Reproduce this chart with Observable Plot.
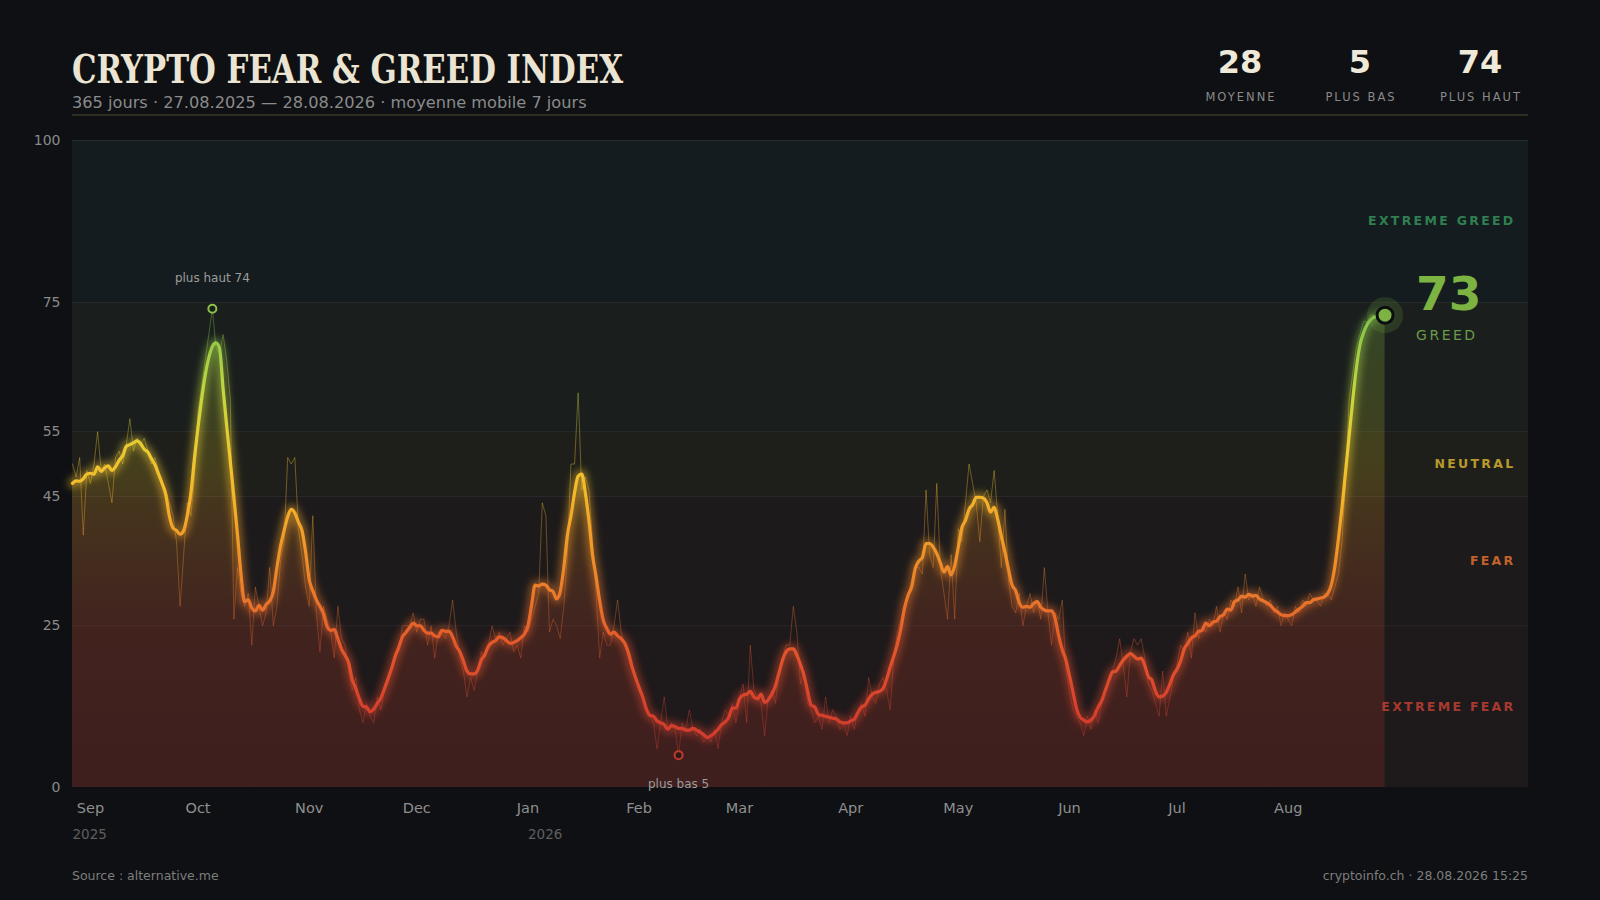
<!DOCTYPE html>
<html>
<head>
<meta charset="utf-8">
<script src="https://cdn.jsdelivr.net/npm/d3@7"></script>
<script src="https://cdn.jsdelivr.net/npm/@observablehq/plot@0.6"></script>
<style>
  html, body { margin: 0; padding: 0; background: #0e1013; }
  body { width: 1600px; height: 900px; position: relative; overflow: hidden; font-family: "DejaVu Sans", sans-serif; }
  #header { position: absolute; left: 0; top: 0; }
  #chart { position: absolute; left: 0; top: 120px; }
  #footer { position: absolute; left: 0; top: 850px; }
</style>
</head>
<body>
<div id="header"></div>
<div id="chart"></div>
<div id="footer"></div>
<script>
// ---------- DATA ----------
// Crypto Fear & Greed Index, daily values from 27.08.2025
const fng = [
  50,48,51,39,49,47,50,
  55,49,50,47,44,51,52,
  50,53,57,52,54,53,54,
  52,50,51,49,47,46,44,
  42,38,28,36,44,42,48,
  58,62,66,70,74,68,67,
  70,66,60,26,34,30,28,
  30,22,31,28,25,27,34,
  25,28,35,38,51,50,51,
  40,36,31,28,42,27,21,
  28,26,24,20,28,23,22,
  18,15,17,12,10,13,11,
  10,14,12,15,16,19,21,
  21,25,25,25,27,24,26,
  26,22,25,20,24,24,23,
  25,29,24,20,18,14,17,
  15,18,21,20,22,25,23,
  24,22,23,24,21,22,20,
  25,24,26,28,30,44,42,
  24,26,25,23,28,36,50,
  50,61,46,48,46,38,30,
  20,24,22,22,25,29,24,
  22,20,19,17,15,14,12,
  11,10,6,10,14,9,10,
  9,5,10,9,12,9,8,
  9,7,8,7,9,6,10,
  12,11,13,10,14,16,10,
  22,15,14,13,8,14,15,
  13,18,20,22,22,28,24,
  16,18,13,12,10,11,9,
  14,10,12,11,9,10,8,
  11,9,12,13,11,17,14,
  13,16,17,15,12,20,24,
  26,28,30,32,34,34,33,
  46,36,34,47,34,30,26,
  36,26,40,38,44,50,47,
  44,38,45,46,44,49,42,
  34,43,32,28,27,30,25,
  28,30,27,29,26,34,27,
  22,27,26,29,18,15,12,
  11,10,8,11,9,12,10,
  13,15,17,18,20,23,19,
  14,21,23,22,23,20,16,
  15,13,11,18,11,14,17,
  19,22,21,24,20,27,23,
  25,24,26,25,28,24,27,
  26,29,28,31,27,33,29,
  30,28,31,29,28,29,27,
  28,25,27,26,25,28,27,
  29,28,30,29,29,28,30,
  30,29,31,33,38,48,60,
  64,68,70,72,72,73,73,
  73,73,73
];
const startDate = "2025-08-27";
const domainEnd = "2026-10-07";
const zoneNames = ["EXTREME FEAR", "FEAR", "NEUTRAL", "GREED", "EXTREME GREED"];
const zoneLow  = [0, 25, 45, 55, 75];
const zoneHigh = [25, 45, 55, 75, 100];
const yTicks = [0, 25, 45, 55, 75, 100];
const yearLabels = ["2025", "2026"];
const titleText = "CRYPTO FEAR & GREED INDEX";
const subtitleText = "365 jours · 27.08.2025 — 28.08.2026 · moyenne mobile 7 jours";
const statLabels = ["MOYENNE", "PLUS BAS", "PLUS HAUT"];
const sourceText = "Source : alternative.me";
const stampText = "cryptoinfo.ch · 28.08.2026 15:25";
const maxLabelPrefix = "plus haut";
const minLabelPrefix = "plus bas";

// ---------- STYLES ----------
const zoneFill  = ["#1e191b", "#1d1a1c", "#1e1f1b", "#1a1f1e", "#141c1f"];
const zoneLabelColor = ["#a8392f", "#c2622b", "#b89a2c", "#6f9a45", "#2f7f51"];
const lineStops = [
  [0, "#c8372d"], [12, "#d6402c"], [22, "#e4572b"], [30, "#ea7a2a"], [38, "#f09a28"],
  [46, "#f5b92a"], [52, "#ebc932"], [60, "#cad63b"], [66, "#a8d044"], [72, "#86c54a"], [100, "#7cb342"]
];
const areaStops = [
  [0, "#b3302a", 0.22], [25, "#c0482a", 0.22], [40, "#c47a22", 0.24], [50, "#b39a20", 0.26],
  [62, "#8fa830", 0.26], [75, "#6fa33e", 0.30], [100, "#6fa33e", 0.30]
];

// ---------- TABLE ----------
const t0 = new Date(startDate + "T00:00:00Z").getTime();
const data = fng.map((v, i) => ({date: new Date(t0 + i * 864e5), value: v}));
const xDomain = [new Date(startDate + "T00:00:00Z"), new Date(domainEnd + "T00:00:00Z")];
const monthTicks = d3.utcMonth.range(d3.utcMonth.ceil(data[0].date), d3.utcMonth.ceil(data[data.length - 1].date));
const yearStarts = yearLabels.map(y => ({label: y, date: data.find(d => d.date.getUTCFullYear() === +y).date}));
const last = data[data.length - 1];
const maxPt = d3.greatest(data, d => d.value);
const minPt = d3.least(data, d => d.value);
const meanVal = Math.round(d3.mean(data, d => d.value));
const curZone = zoneLow.findIndex((lo, i) => last.value >= lo && last.value < zoneHigh[i]);
const zoneRows = zoneNames.map((n, i) => ({name: n, mid: (zoneLow[i] + zoneHigh[i]) / 2, i}));

const ma = (opts) => Plot.windowY({k: 7, anchor: "middle"}, {x: "date", y: "value", curve: "monotone-x", ...opts});

const chart = Plot.plot({
  width: 1600,
  height: 730,
  marginLeft: 72,
  marginRight: 72,
  marginTop: 20,
  marginBottom: 63,
  x: {type: "utc", domain: xDomain},
  y: {domain: [0, 100]},
  style: {background: "transparent", color: "#8d8d8d", fontFamily: "'DejaVu Sans', sans-serif", fontSize: "14px"},
  marks: [
    ...zoneRows.map(z => Plot.rect([z], {x1: xDomain[0], x2: xDomain[1], y1: zoneLow[z.i], y2: zoneHigh[z.i], fill: zoneFill[z.i]})),
    Plot.ruleY(zoneLow.slice(1).concat([100]), {stroke: "#ffffff", strokeOpacity: 0.07}),
    Plot.areaY(data, ma({fill: "url(#fgArea)"})),
    Plot.lineY(data, {x: "date", y: "value", stroke: "url(#fgLine)", strokeWidth: 1, strokeOpacity: 0.38}),
    Plot.lineY(data, ma({stroke: "url(#fgLine)", strokeWidth: 10, strokeOpacity: 0.45})),
    Plot.lineY(data, ma({stroke: "url(#fgLine)", strokeWidth: 3.2})),
    // zone labels
    ...zoneRows.filter(z => z.i !== curZone).map(z =>
      Plot.text([z], {x: xDomain[1], y: "mid", text: "name", textAnchor: "end", dx: -13,
        fill: zoneLabelColor[z.i], fontSize: 12.5, fontWeight: "bold"})),
    // max marker
    Plot.dot([maxPt], {x: "date", y: "value", r: 4, stroke: "#8bc34a", strokeWidth: 2, fill: "#1a2018"}),
    Plot.text([maxPt], {x: "date", y: "value", text: d => `${maxLabelPrefix} ${d.value}`, dy: -31, fill: "#9c9c9c", fontSize: 12}),
    // min marker
    Plot.dot([minPt], {x: "date", y: "value", r: 4, stroke: "#c0392b", strokeWidth: 2, fill: "#2a1a1a"}),
    Plot.text([minPt], {x: "date", y: "value", text: d => `${minLabelPrefix} ${d.value}`, dy: 29, fill: "#9c9c9c", fontSize: 12}),
    // current value
    Plot.dot([last], {x: "date", y: "value", r: 18, fill: "#7cb342", fillOpacity: 0.18}),
    Plot.dot([last], {x: "date", y: "value", r: 8, fill: "#7cb342", stroke: "#0b0d0f", strokeWidth: 3}),
    Plot.text([last], {x: "date", y: "value", text: d => String(d.value), dx: 31, dy: -20, textAnchor: "start",
      fill: "#7cb342", fontSize: 47, fontWeight: "bold"}),
    Plot.text([last], {x: "date", y: "value", text: () => zoneNames[curZone], dx: 31, dy: 20, textAnchor: "start",
      fill: "#6b9a48", fontSize: 14}),
    // axes
    Plot.axisY({ticks: yTicks, tickSize: 0, tickPadding: 12, fontSize: 14, fill: "#8a8a8a"}),
    Plot.axisX({ticks: monthTicks, tickFormat: d3.utcFormat("%b"), tickSize: 0, tickPadding: 15, fontSize: 14.5, fill: "#8f8f8f"}),
    Plot.text(yearStarts, {x: "date", y: 0, text: "label", textAnchor: "start", lineAnchor: "top", dy: 42, fontSize: 13.5, fill: "#5f5f5f"})
  ]
});

// gradients tied to the y scale
const ys = chart.scale("y");
const y0 = ys.apply(0), y100 = ys.apply(100);
const svgSel = d3.select(chart);
const defs = svgSel.insert("defs", ":first-child");
const lg = defs.append("linearGradient").attr("id", "fgLine").attr("gradientUnits", "userSpaceOnUse")
  .attr("x1", 0).attr("x2", 0).attr("y1", y0).attr("y2", y100);
lineStops.forEach(([v, c]) => lg.append("stop").attr("offset", v / 100).attr("stop-color", c));
const ag = defs.append("linearGradient").attr("id", "fgArea").attr("gradientUnits", "userSpaceOnUse")
  .attr("x1", 0).attr("x2", 0).attr("y1", y0).attr("y2", y100);
areaStops.forEach(([v, c, o]) => ag.append("stop").attr("offset", v / 100).attr("stop-color", c).attr("stop-opacity", o));
const glow = defs.append("filter").attr("id", "glow").attr("x", "-5%").attr("y", "-20%").attr("width", "110%").attr("height", "140%");
glow.append("feGaussianBlur").attr("stdDeviation", 3.5);
const lineGroups = svgSel.selectAll('g[aria-label="line"]').nodes();
if (lineGroups[1]) d3.select(lineGroups[1]).attr("filter", "url(#glow)");
svgSel.selectAll("text").filter(function () { return zoneNames.includes(this.textContent) && this.getAttribute("font-size") !== "14"; })
  .attr("letter-spacing", "2.3px");
svgSel.selectAll("text").filter(function () { return this.textContent === zoneNames[curZone]; })
  .attr("letter-spacing", "2.5px");
document.getElementById("chart").appendChild(chart);

// ---------- HEADER ----------
const hdr = d3.select("#header").append("svg").attr("width", 1600).attr("height", 120);
hdr.append("text").attr("x", 72).attr("y", 83).text(titleText)
  .attr("font-family", "'DejaVu Serif', serif").attr("font-weight", "bold").attr("font-size", 39)
  .attr("fill", "#ebe4d2").attr("textLength", 551).attr("lengthAdjust", "spacingAndGlyphs");
hdr.append("text").attr("x", 72).attr("y", 108).text(subtitleText)
  .attr("font-size", 16.2).attr("fill", "#8b8b8b");
hdr.append("line").attr("x1", 72).attr("x2", 1528).attr("y1", 115).attr("y2", 115)
  .attr("stroke", "#3b3727").attr("stroke-width", 1.5);
const statVals = [meanVal, minPt.value, maxPt.value];
const statX = [1240, 1360, 1480];
statVals.forEach((v, i) => {
  hdr.append("text").attr("x", statX[i]).attr("y", 73).attr("text-anchor", "middle").text(String(v))
    .attr("font-size", 32).attr("font-weight", "bold").attr("fill", "#efe9da");
  hdr.append("text").attr("x", statX[i] + 1).attr("y", 101).attr("text-anchor", "middle").text(statLabels[i])
    .attr("font-size", 11.5).attr("letter-spacing", "2px").attr("fill", "#8a8a8a");
});

// ---------- FOOTER ----------
const ftr = d3.select("#footer").append("svg").attr("width", 1600).attr("height", 50);
ftr.append("text").attr("x", 72).attr("y", 30).text(sourceText).attr("font-size", 12.5).attr("fill", "#7d7d7d");
ftr.append("text").attr("x", 1528).attr("y", 30).attr("text-anchor", "end").text(stampText).attr("font-size", 12.5).attr("fill", "#7d7d7d");
</script>
</body>
</html>
